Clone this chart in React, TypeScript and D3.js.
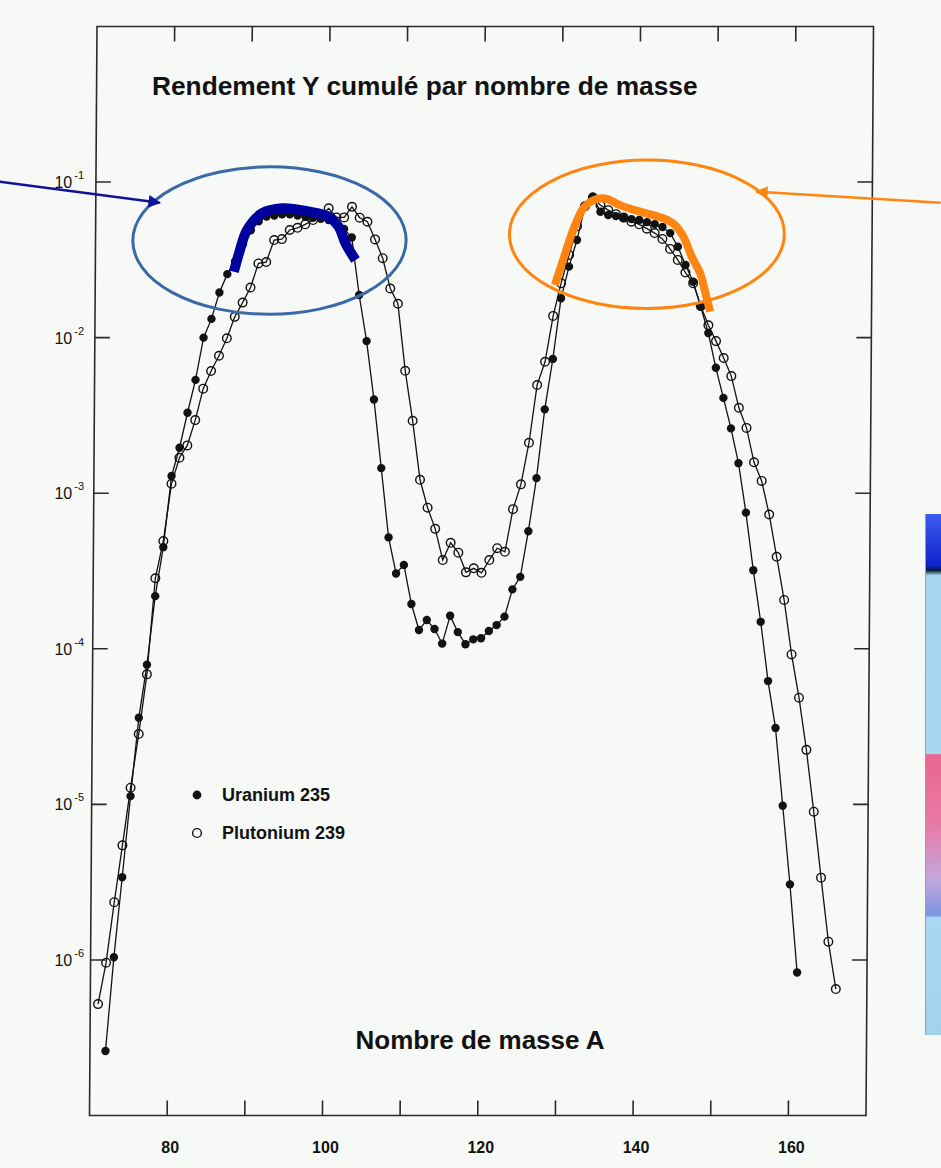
import React from "react";
import * as d3 from "d3";

const WIDTH = 941;
const HEIGHT = 1168;

// Cumulative fission yield per mass number A (thermal fission)
const FIRST_MASS_U235 = 72;
const yieldU235 = [
  2.6e-7, 1.04e-6, 3.4e-6, 1.13e-5, 3.6e-5, 7.9e-5, 2.18e-4, 4.5e-4, 1.29e-3, 1.96e-3,
  3.29e-3, 5.35e-3, 1.0e-2, 1.32e-2, 1.95e-2, 2.56e-2, 3.1e-2, 4.0e-2, 4.9e-2, 5.6e-2,
  6.0e-2, 6.1e-2, 6.2e-2, 6.2e-2, 6.1e-2, 6.0e-2, 5.9e-2, 5.8e-2, 5.7e-2, 5.4e-2,
  5.0e-2, 4.4e-2, 1.88e-2, 9.5e-3, 4.0e-3, 1.45e-3, 5.2e-4, 3.05e-4, 3.46e-4, 1.94e-4,
  1.32e-4, 1.53e-4, 1.34e-4, 1.08e-4, 1.63e-4, 1.28e-4, 1.07e-4, 1.15e-4, 1.17e-4, 1.3e-4,
  1.42e-4, 1.61e-4, 2.41e-4, 2.9e-4, 5.7e-4, 1.25e-3, 3.46e-3, 7.3e-3, 1.79e-2, 2.86e-2,
  4.24e-2, 7.0e-2, 8.05e-2, 6.44e-2, 6.14e-2, 6.04e-2, 5.87e-2, 5.78e-2, 5.7e-2, 5.53e-2,
  5.37e-2, 5.14e-2, 4.7e-2, 3.84e-2, 2.93e-2, 2.29e-2, 1.58e-2, 1.07e-2, 6.4e-3, 4.1e-3,
  2.61e-3, 1.56e-3, 7.5e-4, 3.2e-4, 1.49e-4, 6.2e-5, 3.1e-5, 9.8e-6, 3.06e-6, 8.3e-7,
];

const FIRST_MASS_PU239 = 71;
const yieldPu239 = [
  5.2e-7, 9.6e-7, 2.35e-6, 5.45e-6, 1.28e-5, 2.83e-5, 6.85e-5, 2.84e-4, 4.93e-4, 1.15e-3,
  1.69e-3, 2.03e-3, 2.95e-3, 4.7e-3, 6.1e-3, 7.65e-3, 9.9e-3, 1.36e-2, 1.68e-2, 2.1e-2,
  3.0e-2, 3.06e-2, 4.24e-2, 4.3e-2, 4.92e-2, 5.08e-2, 5.35e-2, 5.7e-2, 6.1e-2, 6.78e-2,
  5.93e-2, 5.93e-2, 6.94e-2, 5.9e-2, 5.56e-2, 4.28e-2, 3.24e-2, 2.07e-2, 1.65e-2, 6.12e-3,
  2.92e-3, 1.22e-3, 8.07e-4, 5.9e-4, 3.72e-4, 4.8e-4, 4.15e-4, 3.1e-4, 3.29e-4, 3.08e-4,
  3.72e-4, 4.43e-4, 4.2e-4, 7.9e-4, 1.14e-3, 2.11e-3, 4.96e-3, 7.0e-3, 1.38e-2, 2.24e-2,
  3.4e-2, 5.2e-2, 7.0e-2, 7.95e-2, 7.1e-2, 6.6e-2, 6.22e-2, 5.91e-2, 5.56e-2, 5.35e-2,
  5.02e-2, 4.7e-2, 4.31e-2, 3.72e-2, 3.16e-2, 2.62e-2, 2.24e-2, 1.6e-2, 1.2e-2, 9.5e-3,
  7.4e-3, 5.66e-3, 3.54e-3, 2.63e-3, 1.58e-3, 1.2e-3, 7.3e-4, 3.9e-4, 2.06e-4, 9.2e-5,
  4.85e-5, 2.24e-5, 8.97e-6, 3.38e-6, 1.31e-6, 6.5e-7,
];

const xTickValues = [80, 90, 100, 110, 120, 130, 140, 150, 160];
const xTickLabels = [80, 100, 120, 140, 160];
const yTickExponents = [-1, -2, -3, -4, -5, -6];

const TITLE = "Rendement Y cumulé par nombre de masse";
const X_TITLE = "Nombre de masse A";
const legendEntries = [
  { label: "Uranium 235", filled: true },
  { label: "Plutonium 239", filled: false },
];

// Hand-drawn highlights over the two yield peaks, as [A, yield]
const blueHighlight: [number, number][] = [
  [87.84, 0.0265], [88.5, 0.035], [89.5, 0.0492], [91.4, 0.0629], [94.0, 0.0678],
  [97.5, 0.0645], [100.0, 0.0598], [101.3, 0.0516], [102.2, 0.0403], [103.5, 0.0316],
];
const orangeHighlight: [number, number][] = [
  [129.2, 0.0218], [130.5, 0.0348], [131.5, 0.0492], [132.8, 0.0678], [134.1, 0.0766],
  [135.6, 0.0785], [137.5, 0.0711], [140.1, 0.0645], [143.1, 0.0585], [144.6, 0.053],
  [145.7, 0.0446], [146.8, 0.0331], [147.9, 0.0259], [148.5, 0.0202], [149.2, 0.0147],
];
const blueEllipse = { a0: 74.8, a1: 110.0, y0: 0.01413, y1: 0.1253 };
const orangeEllipse = { a0: 123.3, a1: 158.7, y0: 0.01542, y1: 0.1384 };
const blueArrow: [number, number][] = [[57.6, 0.1004], [78.24, 0.0736]];
const orangeArrow: [number, number][] = [[178.8, 0.0736], [155.05, 0.0867]];

const FONT = "'Liberation Sans', Arial, Helvetica, sans-serif";
const INK = "#121212";

export default function App() {
  const left = 89.5;
  const right = 866;
  const top = 26.5;
  const bottom = 1115.5;

  const x = d3.scaleLinear().domain([70, 170]).range([left, right]);
  const y = d3.scaleLog().domain([1e-7, 1]).range([bottom, top]);

  // the frame leans slightly to the right towards its top
  const lean = (Math.atan(7.5 / (bottom - top)) * 180) / Math.PI;
  const leanTransform = `translate(0,${bottom}) skewX(${-lean}) translate(0,${-bottom})`;

  const u235 = yieldU235.map((v, i) => ({ a: FIRST_MASS_U235 + i, v }));
  const pu239 = yieldPu239.map((v, i) => ({ a: FIRST_MASS_PU239 + i, v }));

  const line = d3
    .line<{ a: number; v: number }>()
    .x((d) => x(d.a))
    .y((d) => y(d.v));

  const stroke = d3
    .line<[number, number]>()
    .x((d) => x(d[0]))
    .y((d) => y(d[1]))
    .curve(d3.curveCatmullRom.alpha(0.5));

  const ellipse = (e: { a0: number; a1: number; y0: number; y1: number }) => ({
    cx: (x(e.a0) + x(e.a1)) / 2,
    cy: (y(e.y0) + y(e.y1)) / 2,
    rx: (x(e.a1) - x(e.a0)) / 2,
    ry: (y(e.y0) - y(e.y1)) / 2,
  });
  const be = ellipse(blueEllipse);
  const oe = ellipse(orangeEllipse);

  const tickLen = 15;

  return (
    <svg
      width={WIDTH}
      height={HEIGHT}
      viewBox={`0 0 ${WIDTH} ${HEIGHT}`}
      style={{ position: "absolute", left: 0, top: 0, display: "block" }}
      fontFamily={FONT}
    >
      <defs>
        <marker id="headBlue" viewBox="0 0 10 10" refX="9" refY="5" markerWidth="6" markerHeight="5" orient="auto" markerUnits="strokeWidth">
          <path d="M0,0 L10,5 L0,10 z" fill="#12129a" />
        </marker>
        <marker id="headOrange" viewBox="0 0 10 10" refX="9" refY="5" markerWidth="6" markerHeight="5" orient="auto" markerUnits="strokeWidth">
          <path d="M0,0 L10,5 L0,10 z" fill="#ff8410" />
        </marker>
        <linearGradient id="stripGrad" x1="0" y1="0" x2="0" y2="1">
          <stop offset="0" stopColor="#3d5cf2" />
          <stop offset="0.1" stopColor="#0d22c8" />
          <stop offset="0.108" stopColor="#0b1a30" />
          <stop offset="0.118" stopColor="#a6d6ef" />
          <stop offset="0.46" stopColor="#a8d8f0" />
          <stop offset="0.462" stopColor="#e9668f" />
          <stop offset="0.59" stopColor="#ea78a4" />
          <stop offset="0.7" stopColor="#c3a6dc" />
          <stop offset="0.77" stopColor="#7f95e2" />
          <stop offset="0.775" stopColor="#a9d8f0" />
          <stop offset="1" stopColor="#a3d3ec" />
        </linearGradient>
      </defs>

      <rect x={0} y={0} width={WIDTH} height={HEIGHT} fill="#f6f9f5" />

      {/* strip of a neighbouring figure at the right edge */}
      <rect x={925} y={514} width={16} height={521} fill="url(#stripGrad)" />
      <line x1={925.5} x2={925.5} y1={514} y2={1035} stroke="#7fa6bf" strokeWidth={1} />

      {/* title */}
      <text x={152} y={95} fontSize={26.3} fontWeight="bold" fill={INK}>
        {TITLE}
      </text>

      <g transform={leanTransform}>
        {/* frame */}
        <rect
          x={left}
          y={top}
          width={right - left}
          height={bottom - top}
          fill="none"
          stroke="#2a2a2a"
          strokeWidth={1.6}
        />
        {/* x ticks, top and bottom, pointing inward */}
        {xTickValues.map((t) => (
          <g key={`xt${t}`} stroke="#2a2a2a" strokeWidth={1.6}>
            <line x1={x(t)} x2={x(t)} y1={top} y2={top + tickLen} />
            <line x1={x(t)} x2={x(t)} y1={bottom} y2={bottom - tickLen} />
          </g>
        ))}
        {/* y ticks, left and right */}
        {yTickExponents.map((e) => (
          <g key={`yt${e}`} stroke="#2a2a2a" strokeWidth={1.6}>
            <line x1={left} x2={left + tickLen} y1={y(10 ** e)} y2={y(10 ** e)} />
            <line x1={right} x2={right - tickLen} y1={y(10 ** e)} y2={y(10 ** e)} />
          </g>
        ))}

        {/* series */}
        <path d={line(u235) ?? ""} fill="none" stroke={INK} strokeWidth={1.3} />
        <path d={line(pu239) ?? ""} fill="none" stroke={INK} strokeWidth={1.3} />
        {pu239.map((d) => (
          <circle key={`p${d.a}`} cx={x(d.a)} cy={y(d.v)} r={4.3} fill="none" stroke={INK} strokeWidth={1.4} />
        ))}
        {u235.map((d) => (
          <circle key={`u${d.a}`} cx={x(d.a)} cy={y(d.v)} r={4.2} fill={INK} />
        ))}

        {/* highlights */}
        <ellipse cx={be.cx} cy={be.cy} rx={be.rx} ry={be.ry} fill="none" stroke="#3b69a8" strokeWidth={3} />
        <ellipse cx={oe.cx} cy={oe.cy} rx={oe.rx} ry={oe.ry} fill="none" stroke="#ff8410" strokeWidth={3} />
        <path d={stroke(blueHighlight) ?? ""} fill="none" stroke="#00009c" strokeWidth={10} strokeLinejoin="round" />
        <path d={stroke(orangeHighlight) ?? ""} fill="none" stroke="#ff8410" strokeWidth={8} strokeLinejoin="round" />
        <line
          x1={x(blueArrow[0][0])}
          y1={y(blueArrow[0][1])}
          x2={x(blueArrow[1][0])}
          y2={y(blueArrow[1][1])}
          stroke="#12129a"
          strokeWidth={2.5}
          markerEnd="url(#headBlue)"
        />
        <line
          x1={x(orangeArrow[0][0])}
          y1={y(orangeArrow[0][1])}
          x2={x(orangeArrow[1][0])}
          y2={y(orangeArrow[1][1])}
          stroke="#ff8410"
          strokeWidth={2.5}
          markerEnd="url(#headOrange)"
        />
      </g>

      {/* y tick labels */}
      {yTickExponents.map((e) => (
        <text key={`yl${e}`} x={84} y={y(10 ** e) + 6} textAnchor="end" fontSize={16} fill={INK}>
          <tspan>10</tspan>
          <tspan dy={-9} fontSize={11} dx={2}>
            {`-${Math.abs(e)}`}
          </tspan>
        </text>
      ))}

      {/* x tick labels */}
      {xTickLabels.map((t) => (
        <text key={`xl${t}`} x={x(t) + 3} y={1153} textAnchor="middle" fontSize={16} fontWeight="bold" fill={INK}>
          {t}
        </text>
      ))}

      {/* x axis title */}
      <text x={355.5} y={1049} fontSize={26} fontWeight="bold" fill={INK}>
        {X_TITLE}
      </text>

      {/* legend */}
      {legendEntries.map((entry, i) => (
        <g key={entry.label} transform={`translate(197,${795 + i * 38})`}>
          {entry.filled ? (
            <circle r={4.4} fill={INK} />
          ) : (
            <circle r={4.4} fill="none" stroke={INK} strokeWidth={1.4} />
          )}
          <text x={25} y={6} fontSize={18} fontWeight="bold" fill={INK}>
            {entry.label}
          </text>
        </g>
      ))}
    </svg>
  );
}
